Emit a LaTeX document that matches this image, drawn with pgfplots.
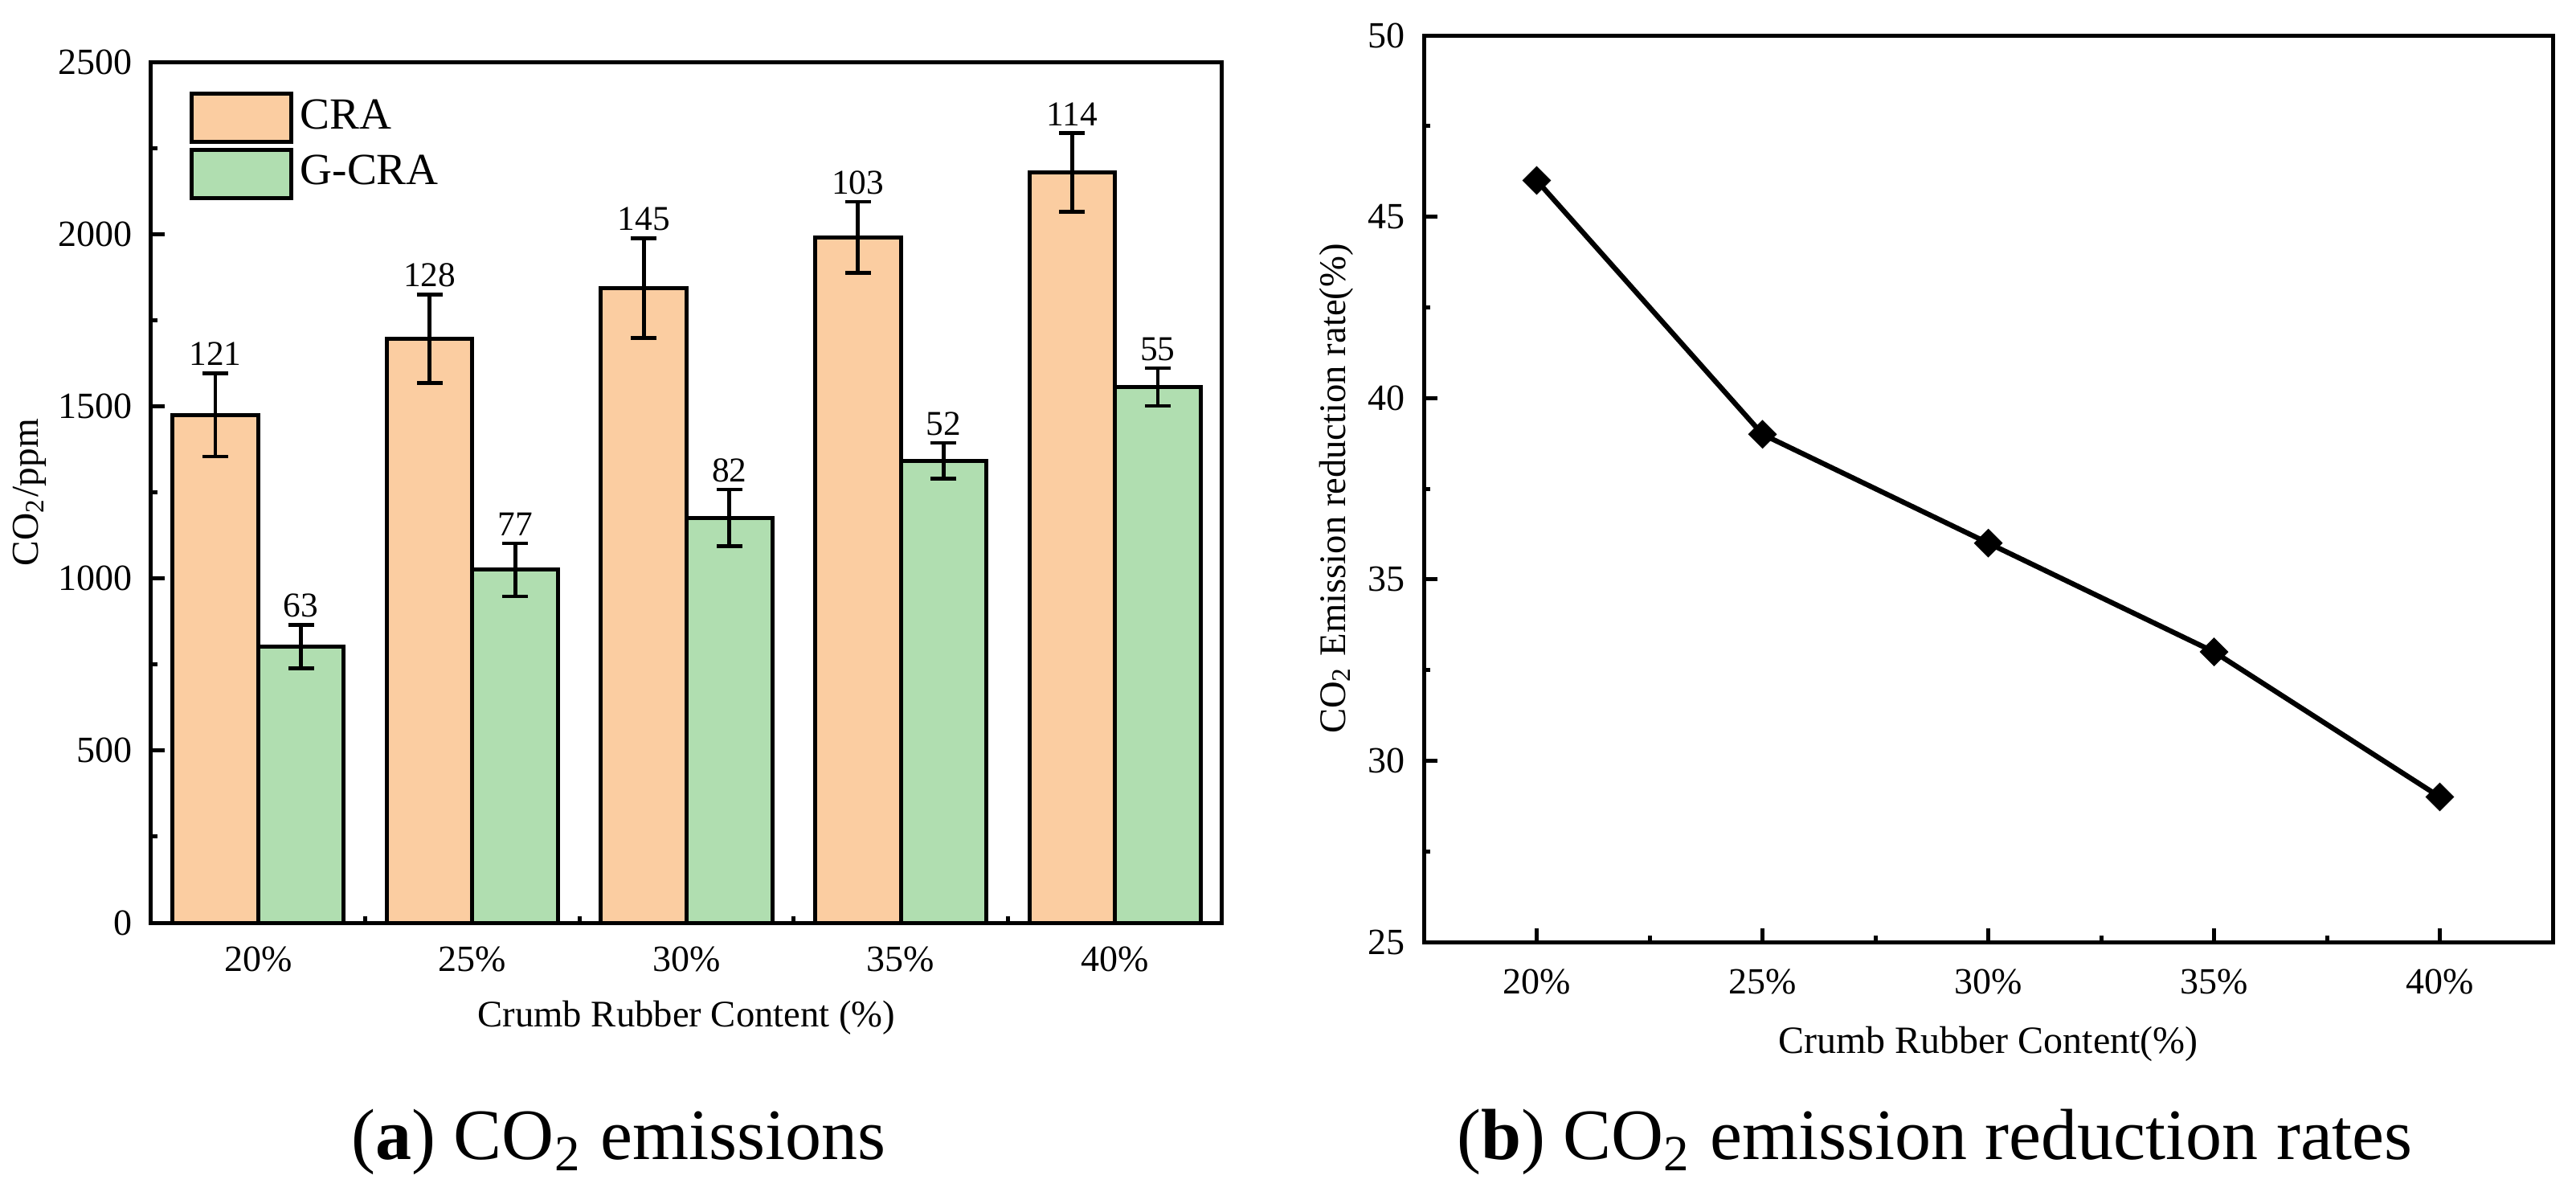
\documentclass[border=0pt]{standalone}
\usepackage{pgfplots}
\pgfplotsset{compat=1.18}
\usepackage{fontspec}
\setmainfont{Liberation Serif}
\definecolor{cra}{RGB}{251,205,161}
\definecolor{gcra}{RGB}{176,222,176}
\pgfplotsset{
  common/.style={
    scale only axis,
    anchor=south west,
    tick align=inside,
    xtick pos=bottom, ytick pos=left,
    major tick length=2.5pt, minor tick length=1.25pt,
    every tick/.append style={black, line width=0.75pt},
    every minor tick/.append style={black, line width=0.75pt},
    axis line style={line width=0.75pt},
    tick label style={font=\fontsize{6.9}{8}\selectfont},
    /pgf/number format/assume math mode=true,
    /pgf/number format/1000 sep={},
  }
}
\begin{document}
\begin{tikzpicture}
\path[use as bounding box] (0,0) rectangle (480.9pt,223.05pt);
\begin{axis}[common,
  at={(28.2pt,50.85pt)},
  width=199.95pt, height=160.65pt,
  xmin=-0.5, xmax=4.5, ymin=0, ymax=2500,
  xtick={0,1,2,3,4}, xticklabels={20\%,25\%,30\%,35\%,40\%},
  minor xtick={0.5,1.5,2.5,3.5},
  ytick={0,500,...,2500}, minor ytick={250,750,...,2250},
  xticklabel style={yshift=-0.9pt},
  xlabel={Crumb Rubber Content (\%)},
  xlabel style={font=\fontsize{7}{8}\selectfont, at={(axis description cs:0.5,0)}, anchor=base, yshift=-19.35pt},
  ylabel={CO\textsubscript{2}/ppm},
  ylabel style={font=\fontsize{7.1}{9}\selectfont, at={(axis description cs:-0.1133,0.5)}, anchor=center},
  legend style={at={(axis description cs:0,1)}, anchor=north west, xshift=7pt, yshift=-5.4pt,
    draw=none, fill=none, font=\fontsize{8.3}{10}\selectfont, row sep=0.7pt, inner sep=0pt,
    nodes={inner sep=1.3pt}},
  legend cell align=left,
]
\addlegendimage{legend image code/.code={\draw[fill=cra,draw=black,line width=0.75pt] (0pt,-4.5pt) rectangle (18.6pt,4.5pt);}}
\addlegendentry{CRA}
\addlegendimage{legend image code/.code={\draw[fill=gcra,draw=black,line width=0.75pt] (0pt,-4.5pt) rectangle (18.6pt,4.5pt);}}
\addlegendentry{G-CRA}
\addplot[forget plot, ybar, bar width=0.4, bar shift=0, fill=cra, draw=black, line width=0.75pt,
  error bars/.cd, y dir=both, y explicit,
  error bar style={line width=0.7pt, black},
  error mark options={rotate=90, mark size=2.4pt, line width=0.7pt, black}]
  coordinates {(-0.2,1475) +- (0,121) (0.8,1696) +- (0,128) (1.8,1843) +- (0,145) (2.8,1991) +- (0,103) (3.8,2179) +- (0,114)};
\addplot[forget plot, ybar, bar width=0.4, bar shift=0, fill=gcra, draw=black, line width=0.75pt,
  error bars/.cd, y dir=both, y explicit,
  error bar style={line width=0.7pt, black},
  error mark options={rotate=90, mark size=2.4pt, line width=0.7pt, black}]
  coordinates {(0.2,802) +- (0,63) (1.2,1025) +- (0,77) (2.2,1176) +- (0,82) (3.2,1342) +- (0,52) (4.2,1556) +- (0,55)};
\addplot[forget plot, draw=none, nodes near coords, point meta=explicit symbolic,
  nodes near coords style={font=\fontsize{6.5}{7}\selectfont, anchor=south, inner sep=1.2pt}]
  coordinates {(-0.2,1596) [121] (0.8,1824) [128] (1.8,1988) [145] (2.8,2094) [103] (3.8,2293) [114]
               (0.2,865) [63] (1.2,1102) [77] (2.2,1258) [82] (3.2,1394) [52] (4.2,1611) [55]};
\end{axis}
\begin{axis}[common,
  at={(265.8pt,47.25pt)},
  width=210.75pt, height=169.2pt,
  xmin=17.5, xmax=42.5, ymin=25, ymax=50,
  xtick={20,25,30,35,40}, xticklabels={20\%,25\%,30\%,35\%,40\%},
  minor xtick={22.5,27.5,32.5,37.5},
  ytick={25,30,...,50}, minor ytick={27.5,32.5,...,47.5},
  xticklabel style={yshift=-1.5pt},
  xlabel={Crumb Rubber Content(\%)},
  xlabel style={font=\fontsize{7.2}{8}\selectfont, at={(axis description cs:0.5,0)}, anchor=base, yshift=-20.7pt},
  ylabel={CO\textsubscript{2} Emission reduction rate(\%)},
  ylabel style={font=\fontsize{7}{8}\selectfont, at={(axis description cs:-0.0776,0.5)}, anchor=center},
]
\addplot[black, line width=0.95pt, mark=square*, mark size=1.7pt, mark options={rotate=45, fill=black, solid, line width=0.4pt}]
  coordinates {(20,46) (25,39) (30,36) (35,33) (40,29)};
\end{axis}
\node[font=\fontsize{13.5}{16}\selectfont, anchor=base] at (115.5pt,6.75pt) {(\textbf{a}) CO\textsubscript{2} emissions};
\node[font=\fontsize{13.5}{16}\selectfont, anchor=base] at (361.2pt,6.75pt) {(\textbf{b}) CO\textsubscript{2} emission reduction rates};
\end{tikzpicture}
\end{document}
